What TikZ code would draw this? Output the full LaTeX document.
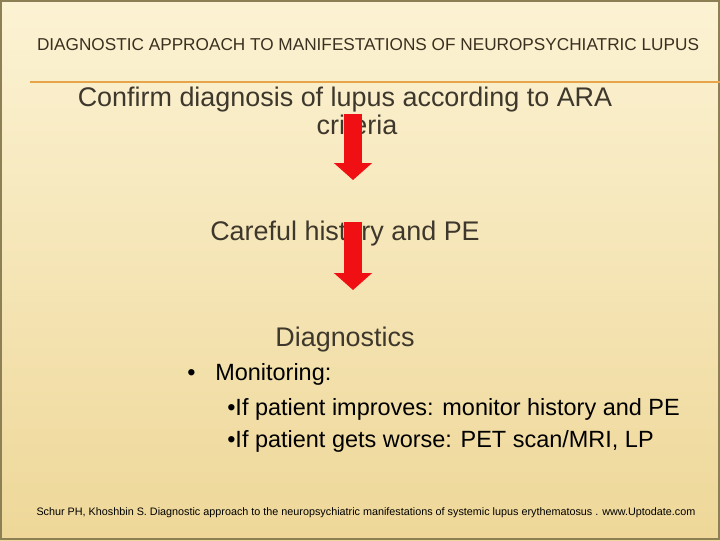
\documentclass[tikz,border=0pt]{standalone}
\usepackage{fontspec}
\setmainfont{Liberation Sans}
\usetikzlibrary{arrows.meta}

\definecolor{bgtop}{RGB}{252,243,212}
\definecolor{bgbot}{RGB}{238,215,152}
\definecolor{frame}{RGB}{140,128,84}
\definecolor{rule}{RGB}{232,164,72}
\definecolor{ink}{RGB}{62,56,44}
\definecolor{titleink}{RGB}{58,48,32}
\definecolor{arrred}{RGB}{240,16,20}

\tikzset{
  slidetext/.style={text=ink, inner sep=0pt, font=\fontsize{20.2}{21}\selectfont},
  listtext/.style={text=black, inner sep=0pt, anchor=base west, font=\fontsize{17.6}{20}\selectfont},
  downarrow/.style={arrred, line width=13.5pt, -{Triangle[width=28pt,length=12.75pt]}},
}

\begin{document}
\begin{tikzpicture}[x=0.75pt, y=-0.75pt]
  % slide background and frame
  \shade[top color=bgtop, bottom color=bgbot] (0,0) rectangle (720,540);
  \useasboundingbox (0,0) rectangle (720,540);
  \draw[frame, line width=1.2pt] (1,1) rectangle (719,539);

  % title and rule under it
  \node[text=titleink, inner sep=0pt, anchor=base, font=\fontsize{12.9}{15}\selectfont] (title) at (368,50)
    {DIAGNOSTIC APPROACH TO MANIFESTATIONS OF NEUROPSYCHIATRIC LUPUS};
  \coordinate (ruleL) at (30,82);
  \coordinate (ruleR) at (720,82);
  \draw[rule, line width=1.1pt] (ruleL) -- (ruleR);

  % steps
  \node[slidetext, align=center, anchor=base] (confirm) at (345,134)
    {Confirm diagnosis of lupus according to ARA\\\hspace*{18pt}criteria};
  \node[slidetext, anchor=base] (history) at (345,240) {Careful history and PE};
  \node[slidetext, anchor=base] (diagn) at (345,346) {Diagnostics};

  % red block arrows (drawn over the text)
  \coordinate (a1top) at (353,114);
  \coordinate (a1tip) at (353,180);
  \coordinate (a2top) at (353,222);
  \coordinate (a2tip) at (353,290);
  \draw[downarrow] (a1top) -- (a1tip);
  \draw[downarrow] (a2top) -- (a2tip);

  % monitoring list
  \node[listtext] (dot) at (187,380) {\textbullet};
  \node[listtext] (monit) at (215,380) {Monitoring:};
  \node[listtext] (better) at (227,415) {\textbullet If patient improves: monitor history and PE};
  \node[listtext] (worse) at (227,447) {\textbullet If patient gets worse: PET scan/MRI, LP};

  % reference
  \node[text=black, inner sep=0pt, anchor=base, font=\fontsize{8.1}{10}\selectfont] (cite) at (366,515)
    {Schur PH, Khoshbin S. Diagnostic approach to the neuropsychiatric manifestations of systemic lupus erythematosus . www.Uptodate.com};
\end{tikzpicture}
\end{document}
